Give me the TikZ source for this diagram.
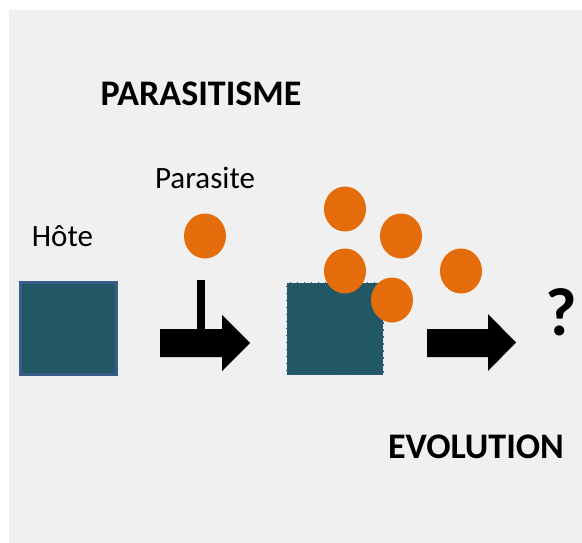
\documentclass[tikz,border=0pt]{standalone}
\usepackage{fontspec}
\setmainfont{Carlito}
\usepackage{tikz}
\usetikzlibrary{shapes.geometric, positioning}
\definecolor{hostteal}{RGB}{34, 88, 102}
\definecolor{hostedge}{RGB}{56, 93, 138}
\definecolor{parasiteorange}{RGB}{228, 108, 10}
\definecolor{slidegray}{RGB}{240, 240, 240}

\tikzset{
    hostbox/.style={fill=hostteal, minimum width=96pt, minimum height=92pt, inner sep=0pt},
    parasitedot/.style={ellipse, fill=parasiteorange, minimum width=42pt, minimum height=45pt, inner sep=0pt},
    bigtitle/.style={font=\fontsize{36}{42}\selectfont\bfseries, anchor=base, inner sep=0pt},
    smalllabel/.style={font=\fontsize{31}{36}\selectfont, anchor=base, inner sep=0pt},
    blockarrow/.style={fill=black}
}

\begin{document}
\begin{tikzpicture}[x=1pt, y=-1pt]
    \useasboundingbox (0,0) rectangle (582,543);
    \fill[slidegray] (9,10) rectangle (582,543);

    % titles
    \node[bigtitle] (title) at (201,106) {PARASITISME};
    \node[bigtitle] (evolution) at (476,458) {EVOLUTION};

    % host before infection
    \node[smalllabel] (hotelabel) at (62.5,246) {Hôte};
    \node[hostbox, draw=hostedge, line width=2.5pt] (host) at (68.5,328.5) {};

    % incoming parasite
    \node[smalllabel] (parasitelabel) at (205,189) {Parasite};
    \node[parasitedot] (parasite) at (205,236) {};

    % first arrow with the parasite stem
    \fill[blockarrow] (197,280) rectangle (205,331);
    \fill[blockarrow] (160,329) -- (222,329) -- (222,315) -- (250,343)
        -- (222,371) -- (222,357) -- (160,357) -- cycle;

    % infected host
    \node[hostbox, draw=hostedge, line width=1.5pt, dash pattern=on 1.5pt off 5.5pt] (infected) at (335,328.5) {};
    \node[parasitedot] (p1) at (345,209) {};
    \node[parasitedot] (p2) at (401,236) {};
    \node[parasitedot] (p3) at (345,271) {};
    \node[parasitedot] (p4) at (461,271) {};
    \node[parasitedot] (p5) at (392,300) {};

    % second arrow
    \fill[blockarrow] (427,329) -- (488,329) -- (488,314) -- (516,342.5)
        -- (488,371) -- (488,357) -- (427,357) -- cycle;
    \node[font=\fontsize{68}{74}\selectfont\bfseries, anchor=base, inner sep=0pt] (unknown) at (561,335) {?};
\end{tikzpicture}
\end{document}
